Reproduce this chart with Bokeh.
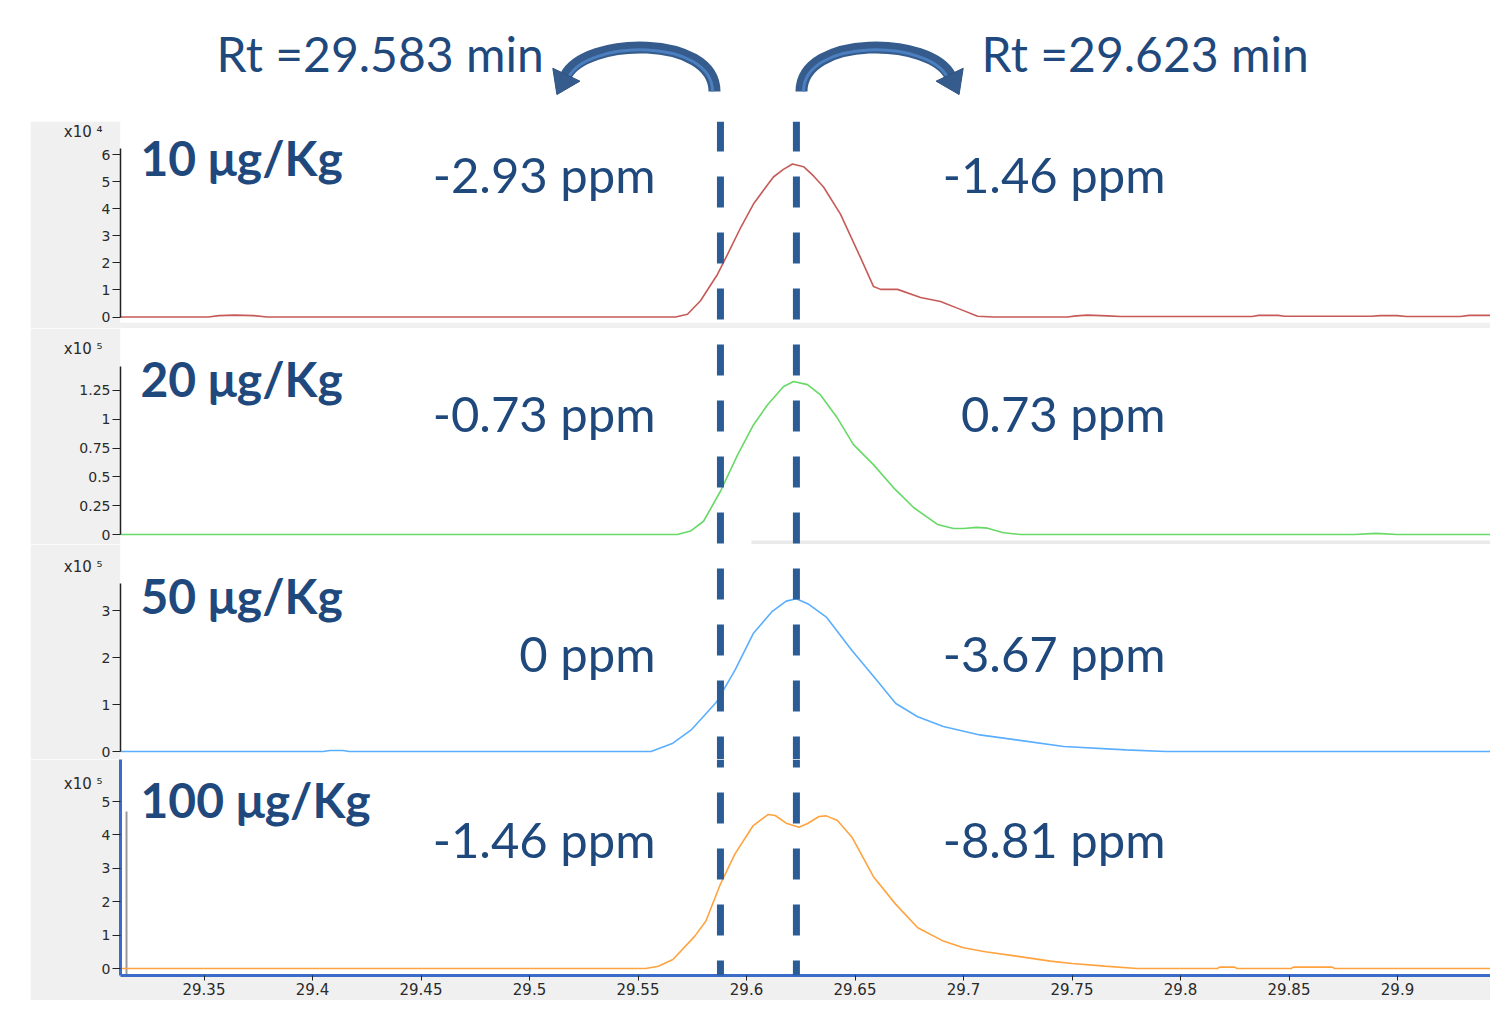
import numpy as np
from bokeh.plotting import figure
from bokeh.models import Range1d, FixedTicker, Span, Label, BoxAnnotation, Spacer, LinearAxis
from bokeh.layouts import column, row
from bokeh.core.properties import value
from bokeh.embed import file_html
from bokeh.resources import INLINE

# ---------------- data ----------------
rt_markers = [29.588, 29.623]
rt_texts = ["Rt =29.583 min", "Rt =29.623 min"]
levels = ["10 μg/Kg", "20 μg/Kg", "50 μg/Kg", "100 μg/Kg"]
ppm_left = ["-2.93 ppm", "-0.73 ppm", "0 ppm", "-1.46 ppm"]
ppm_right = ["-1.46 ppm", "0.73 ppm", "-3.67 ppm", "-8.81 ppm"]
scale_labels = ["x10 ⁴", "x10 ⁵", "x10 ⁵", "x10 ⁵"]

t_10 = [29.311, 29.352, 29.357, 29.364, 29.373, 29.379, 29.45, 29.5673, 29.5728, 29.5788,
        29.5866, 29.5912, 29.5970, 29.6032, 29.6080, 29.6124, 29.6170, 29.6212, 29.6263, 29.6310,
        29.6355, 29.6433, 29.6525, 29.6585, 29.6618, 29.6696, 29.6802, 29.6894, 29.6980, 29.7065,
        29.7138, 29.7479, 29.7520, 29.7571, 29.7664, 29.7724, 29.8330, 29.8360, 29.8450, 29.8480,
        29.8880, 29.8920, 29.9000, 29.9040, 29.9290, 29.9330, 29.9440, 29.9470]
i_10 = [0, 0, 0.05, 0.07, 0.05, 0, 0, 0, 0.1, 0.6,
        1.57, 2.3, 3.25, 4.17, 4.7, 5.17, 5.45, 5.65, 5.55, 5.2,
        4.8, 3.8, 2.2, 1.13, 1.02, 1.02, 0.72, 0.57, 0.3, 0.03,
        0, 0, 0.04, 0.07, 0.04, 0.02, 0.02, 0.06, 0.06, 0.03,
        0.03, 0.05, 0.05, 0.02, 0.02, 0.06, 0.06, 0.02]

t_20 = [29.311, 29.5682, 29.5742, 29.5802, 29.5880, 29.5959, 29.6032, 29.6097, 29.6171, 29.6217,
        29.6281, 29.6341, 29.6419, 29.6493, 29.6585, 29.6677, 29.6770, 29.6880, 29.6954, 29.7000,
        29.7060, 29.7111, 29.7184, 29.7263, 29.8800, 29.8900, 29.9000, 29.9500]
i_20 = [0, 0, 0.03, 0.115, 0.375, 0.69, 0.95, 1.125, 1.284, 1.327,
        1.30, 1.21, 1.01, 0.78, 0.606, 0.407, 0.234, 0.087, 0.052, 0.052,
        0.062, 0.055, 0.015, 0, 0, 0.01, 0, 0]

t_50 = [29.311, 29.405, 29.408, 29.414, 29.417, 29.556, 29.5661, 29.5745, 29.5863, 29.5947,
        29.6031, 29.6116, 29.6183, 29.623, 29.6284, 29.6368, 29.6486, 29.6587, 29.6688, 29.6789,
        29.6907, 29.7075, 29.7243, 29.7462, 29.7748, 29.7933, 29.95]
i_50 = [0, 0, 0.02, 0.02, 0, 0, 0.177, 0.459, 1.06, 1.73,
        2.51, 2.97, 3.2, 3.25, 3.14, 2.86, 2.15, 1.59, 1.02, 0.74,
        0.53, 0.353, 0.247, 0.106, 0.035, 0, 0]

t_100 = [29.311, 29.5535, 29.5594, 29.5661, 29.5762, 29.5813, 29.588, 29.5947, 29.6031, 29.6099,
         29.6132, 29.6183, 29.6242, 29.6284, 29.6334, 29.6368, 29.6419, 29.6486, 29.6587, 29.6688,
         29.6789, 29.6907, 29.7000, 29.7100, 29.7243, 29.7400, 29.7500, 29.7650, 29.7800, 29.8170,
         29.8180, 29.8250, 29.8260, 29.8510, 29.8520, 29.8700, 29.8710, 29.9500]
i_100 = [0, 0, 0.07, 0.27, 0.97, 1.42, 2.53, 3.43, 4.28, 4.61,
         4.58, 4.35, 4.23, 4.35, 4.55, 4.57, 4.43, 3.93, 2.73, 1.92,
         1.22, 0.82, 0.62, 0.5, 0.37, 0.22, 0.15, 0.07, 0.0, 0.0,
         0.04, 0.04, 0.0, 0.0, 0.04, 0.04, 0.0, 0.0]

y_ticks_10 = [0, 1, 2, 3, 4, 5, 6]
y_labels_10 = ["0", "1", "2", "3", "4", "5", "6"]
y_ticks_20 = [0, 0.25, 0.5, 0.75, 1, 1.25]
y_labels_20 = ["0", "0.25", "0.5", "0.75", "1", "1.25"]
y_ticks_50 = [0, 1, 2, 3]
y_labels_50 = ["0", "1", "2", "3"]
y_ticks_100 = [0, 1, 2, 3, 4, 5]
y_labels_100 = ["0", "1", "2", "3", "4", "5"]

x_ticks = [29.35, 29.4, 29.45, 29.5, 29.55, 29.6, 29.65, 29.7, 29.75, 29.8, 29.85, 29.9, 29.95]
x_tick_labels = ["29.35", "29.4", "29.45", "29.5", "29.55", "29.6", "29.65", "29.7", "29.75",
                 "29.8", "29.85", "29.9", "29.95"]

series = [(t_10, i_10, "#C65A57", y_ticks_10, y_labels_10),
          (t_20, i_20, "#66D966", y_ticks_20, y_labels_20),
          (t_50, i_50, "#5AAEFF", y_ticks_50, y_labels_50),
          (t_100, i_100, "#FFA33F", y_ticks_100, y_labels_100)]
for t, i, *_ in series:
    assert len(t) == len(i)

# ---------------- styling / geometry ----------------
TXT = "#1F497D"
DASH = "#2B5C95"
GREY = "#F0F0F0"
TICK_FONT = "DejaVu Sans"
FRAME_LEFT = 120.0          # reference pixel of the plot frame's left edge
FRAME_RIGHT = 1490.0
PX_PER_MIN = 2170.0
X0 = 29.6 + (FRAME_LEFT - 746) / PX_PER_MIN
X1 = 29.6 + (FRAME_RIGHT - 746) / PX_PER_MIN
BASE_SHIFT = 0.43           # alphabetic baseline correction (in em)


def xd(px):
    return X0 + (px - FRAME_LEFT) / PX_PER_MIN


# (frame top, frame bottom, zero line, px per unit, bottom border, axis top px,
#  level baseline, ppm baseline, x10 centre, standoff of the x10 label)
geom = [
    (127, 328, 322.5, 27.08, 6, 154, 184, 201, 137, -4),
    (334, 550, 540.0, 115.3, 0, 372, 405, 440, 354, -26),
    (550, 765, 757.0, 47.0, 0, 589, 622, 680, 572, -4),
    (765, 981, 974.0, 33.4, 25, None, 826, 866, 789, -4),
]
DASH_PERIOD = 56.0
DASH_START = 126.0
LVL_FS, PPM_FS, RT_FS = 48, 49, 48

panels = []
for k, (t, inten, col, yt, yl) in enumerate(series):
    top, fbot, zero, ppu, bb, atop, lvl_b, ppm_b, xc, xso = geom[k]

    def yd(py, zero=zero, ppu=ppu):
        return (zero - py) / ppu

    y0, y1 = yd(fbot), yd(top)
    last = (k == 3)
    p = figure(width=int(FRAME_RIGHT - 30), height=int(fbot - top + bb),
               x_range=Range1d(X0, X1), y_range=Range1d(y0, y1),
               output_backend="svg", toolbar_location=None,
               x_axis_type="linear" if last else None,
               min_border_left=90, min_border_right=0, min_border_top=0,
               min_border_bottom=bb)
    p.grid.visible = False
    p.outline_line_color = None
    p.background_fill_color = "white"
    p.border_fill_color = GREY

    # y axis
    ya = p.yaxis[0]
    ya.ticker = FixedTicker(ticks=yt)
    ya.major_label_overrides = {v: s for v, s in zip(yt, yl)}
    ya.major_tick_out = 8
    ya.major_tick_in = 0
    ya.minor_tick_line_color = None
    ya.major_label_standoff = 2
    ya.major_label_text_font = TICK_FONT
    ya.major_label_text_font_size = "14px"
    ya.major_label_text_color = "#2a2a2a"
    ya.major_tick_line_color = "#222222"
    ya.axis_line_color = "#222222"
    ya.axis_line_width = 1.5
    if atop is not None:
        ya.bounds = (0, yd(atop))
    else:
        ya.axis_line_color = "#3A6BC8"
        ya.axis_line_width = 3

    # "x10 n" scale note, shown as a second (outer) left axis with one labelled tick
    xv = yd(xc)
    ex = LinearAxis(ticker=FixedTicker(ticks=[xv]), major_label_overrides={xv: scale_labels[k]},
                    axis_line_color=None, major_tick_line_color=None, minor_tick_line_color=None,
                    major_tick_out=0, major_tick_in=0, major_label_standoff=xso,
                    major_label_text_font=TICK_FONT, major_label_text_font_size="15px",
                    major_label_text_color="#2a2a2a")
    p.add_layout(ex, "left")

    if last:
        xa = p.xaxis[0]
        xa.ticker = FixedTicker(ticks=x_ticks)
        xa.major_label_overrides = {v: s for v, s in zip(x_ticks, x_tick_labels)}
        xa.major_tick_out = 5
        xa.major_tick_in = 0
        xa.minor_tick_line_color = None
        xa.major_label_standoff = 2
        xa.major_label_text_font = TICK_FONT
        xa.major_label_text_font_size = "15px"
        xa.major_label_text_color = "#2a2a2a"
        xa.major_tick_line_color = "#222222"
        xa.axis_line_color = "#3A6BC8"
        xa.axis_line_width = 3
        # grey cursor line
        p.segment(x0=[xd(126)], y0=[y0], x1=[xd(126)], y1=[yd(817)],
                  line_color="#9A9A9A", line_width=2)

    if k == 1:
        p.add_layout(BoxAnnotation(left=xd(751), bottom=y0, top=yd(546),
                                   fill_color="#EAEAEA", fill_alpha=1, line_color=None))

    p.line(t, inten, line_color=col, line_width=1.6)

    phase = (top - DASH_START) % DASH_PERIOD
    for rt in rt_markers:
        p.add_layout(Span(location=rt, dimension="height", line_color=DASH,
                          line_width=7, line_dash="31 25", line_dash_offset=int(round(phase))))

    # labels
    p.add_layout(Label(x=xd(140), y=yd(lvl_b - BASE_SHIFT * LVL_FS), text=levels[k],
                       text_font="Lato", text_font_style="bold", text_font_size=f"{LVL_FS}px",
                       text_color=TXT, text_baseline="alphabetic", text_align="left"))
    p.add_layout(Label(x=xd(655), y=yd(ppm_b - BASE_SHIFT * PPM_FS), text=ppm_left[k],
                       text_font="Lato", text_font_size=f"{PPM_FS}px", text_color=TXT,
                       text_baseline="alphabetic", text_align="right"))
    p.add_layout(Label(x=xd(1165), y=yd(ppm_b - BASE_SHIFT * PPM_FS), text=ppm_right[k],
                       text_font="Lato", text_font_size=f"{PPM_FS}px", text_color=TXT,
                       text_baseline="alphabetic", text_align="right"))
    panels.append(p)

# ---------------- header with Rt annotations ----------------
HEADER_TOP = 6
h = figure(width=int(FRAME_RIGHT), height=127 - HEADER_TOP,
           x_range=Range1d(0, FRAME_RIGHT), y_range=Range1d(127, HEADER_TOP),
           output_backend="svg", toolbar_location=None, x_axis_type=None, y_axis_type=None,
           min_border=0)
h.grid.visible = False
h.outline_line_color = None
rt_base = 80 - BASE_SHIFT * RT_FS
h.text(x=[216, 981], y=[rt_base, rt_base], text=rt_texts, text_font=value("Lato"),
       text_font_size=f"{RT_FS}px", text_color=TXT, text_baseline="alphabetic",
       text_align="left")

MIRROR = 1515.0
P0, C0, C1, P3 = (714, 97), (714, 40), (584, 42), (565, 82)


def arrow(sign):
    def X(v):
        return v if sign > 0 else MIRROR - v
    h.bezier(x0=[X(P0[0])], y0=[P0[1]], x1=[X(P3[0])], y1=[P3[1]],
             cx0=[X(C0[0])], cy0=[C0[1]], cx1=[X(C1[0])], cy1=[C1[1]],
             line_color="#355C8C", line_width=12, line_cap="butt")
    h.bezier(x0=[X(P0[0] - 2)], y0=[P0[1]], x1=[X(P3[0] + 3)], y1=[P3[1] + 1],
             cx0=[X(C0[0] - 2)], cy0=[C0[1] + 3], cx1=[X(C1[0] + 2)], cy1=[C1[1] + 3],
             line_color="#4C7FBF", line_width=3, line_cap="butt")
    d = np.array([P3[0] - C1[0], P3[1] - C1[1]], float)
    d /= np.linalg.norm(d)
    n = np.array([-d[1], d[0]])
    base = np.array(P3, float) - 2 * d
    a = base + 15 * n
    b = base - 15 * n
    tip = base + 22 * d
    xs = [X(a[0]), X(tip[0]), X(b[0])]
    ys = [a[1], tip[1], b[1]]
    h.patch(xs, ys, fill_color="#355C8C", line_color="#2E5281", line_width=1)


arrow(1)
arrow(-1)

stack = column(*panels, spacing=0)
layout = column(h, row(Spacer(width=30, height=sum(pp.height for pp in panels)), stack, spacing=0),
                spacing=0)

open("out.html", "w").write(file_html(layout, INLINE))
